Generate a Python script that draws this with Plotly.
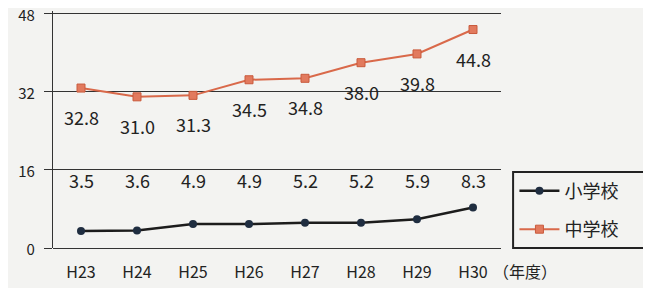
import plotly.graph_objects as go

categories = ["H23", "H24", "H25", "H26", "H27", "H28", "H29", "H30"]
elementary = [3.5, 3.6, 4.9, 4.9, 5.2, 5.2, 5.9, 8.3]
junior = [32.8, 31.0, 31.3, 34.5, 34.8, 38.0, 39.8, 44.8]
y_ticks = [0, 16, 32, 48]
series_names = ["小学校", "中学校"]

FONT = "Noto Sans CJK JP"
BLACK_LINE = "#1c1c1c"
ORANGE = "#d9694a"
BG = "#f3f3f1"

fig = go.Figure()
fig.add_trace(go.Scatter(
    x=categories, y=elementary, name=series_names[0], mode="lines+markers",
    line=dict(color=BLACK_LINE, width=2.5),
    marker=dict(symbol="circle", size=8, color="#1f2d40"),
    legendgroup="a",
))
fig.add_trace(go.Scatter(
    x=categories, y=junior, name=series_names[1], mode="lines+markers",
    line=dict(color=ORANGE, width=2),
    marker=dict(symbol="square", size=8, color="#e27a5e", line=dict(color="#c95a3c", width=1)),
    legendgroup="b",
))

annotations = []
for c, v in zip(categories, junior):
    annotations.append(dict(x=c, y=v, text=f"{v:.1f}", showarrow=False, yshift=-29,
                            font=dict(family=FONT, size=18, color="#222")))
for c, v in zip(categories, elementary):
    annotations.append(dict(x=c, y=14, text=f"{v:.1f}", showarrow=False,
                            font=dict(family=FONT, size=18, color="#222")))
annotations.append(dict(xref="paper", yref="paper", x=0.977, y=-0.097, xanchor="left", yanchor="middle",
                        text="（年度）", showarrow=False, font=dict(family=FONT, size=16, color="#222")))

# legend frame
shapes = [dict(type="rect", xref="paper", yref="paper", x0=1.027, x1=1.326, y0=0.0, y1=0.321,
               line=dict(color="#222", width=2), fillcolor=BG, layer="below")]

# page body adds an 8px margin, so the figure is 8px smaller and shifted
fig.update_layout(
    width=643, height=280,
    margin=dict(l=45, r=150, t=3, b=40),
    paper_bgcolor=BG, plot_bgcolor=BG,
    font=dict(family=FONT, size=15, color="#222"),
    xaxis=dict(showgrid=False, showline=False, ticks="", tickfont=dict(size=16),
               range=[-0.5, 7.5], automargin=False, ticklabelstandoff=13),
    yaxis=dict(range=[0, 48.6], tickvals=y_ticks, showgrid=True, gridcolor="#333", gridwidth=1.3,
               showline=True, linecolor="#333", linewidth=1.3, zeroline=True, zerolinecolor="#333",
               zerolinewidth=1.3, ticks="outside", ticklen=8, tickcolor="#333", tickwidth=1.3,
               tickfont=dict(size=15), ticklabelstandoff=6, ticklabelshift=2, automargin=False,
               ticklabeloverflow="allow"),
    legend=dict(x=1.03, y=0.160, xanchor="left", yanchor="middle",
                borderwidth=0, bgcolor="rgba(0,0,0,0)",
                font=dict(family=FONT, size=18), tracegroupgap=12, itemwidth=40,
                traceorder="grouped"),
    annotations=annotations,
    shapes=shapes,
    showlegend=True,
)

fig.write_html("out.html")
